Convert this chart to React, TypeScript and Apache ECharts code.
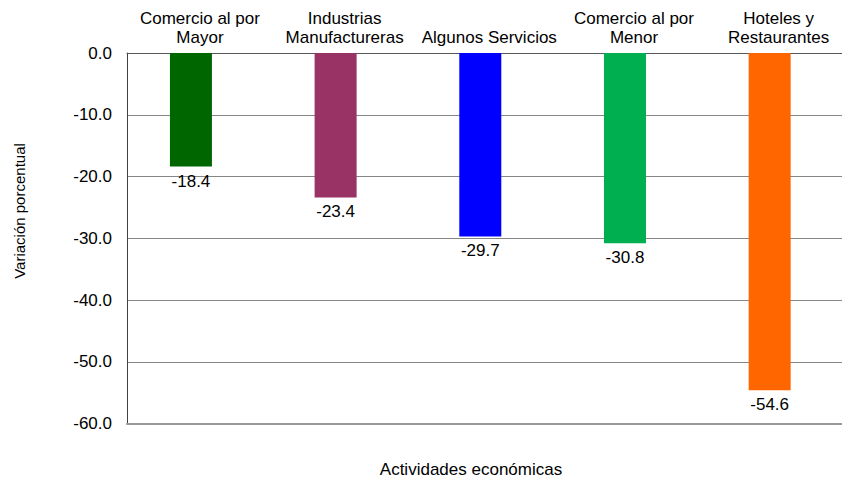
import React, { useEffect, useRef } from "react";
import * as echarts from "echarts";

const categories = [
  "Comercio al por\nMayor",
  "Industrias\nManufactureras",
  "Algunos Servicios",
  "Comercio al por\nMenor",
  "Hoteles y\nRestaurantes",
];
const values = [-18.4, -23.4, -29.7, -30.8, -54.6];
const barColors = ["#006600", "#993366", "#0000FF", "#00B050", "#FF6600"];
const yAxisTitle = "Variación porcentual";
const xAxisTitle = "Actividades económicas";

const FONT = "'Liberation Sans', Arial, sans-serif";

export default function App() {
  const ref = useRef<HTMLDivElement>(null);
  useEffect(() => {
    document.body.style.margin = "0";
    if (!ref.current) return;
    const chart = echarts.init(ref.current, undefined, { renderer: "svg" });
    chart.setOption({
      animation: false,
      backgroundColor: "#ffffff",
      textStyle: { fontFamily: FONT },
      grid: [
        { left: 118.6, width: 723.8, top: 53, bottom: 54.5 },
        { left: 127, right: 0, top: 53, bottom: 54.5 },
      ],
      xAxis: [
        {
          type: "category",
          gridIndex: 0,
          position: "top",
          data: categories,
          axisLine: { show: false },
          axisTick: { show: false },
          axisLabel: {
            color: "#000",
            fontSize: 17,
            fontFamily: FONT,
            lineHeight: 19,
            margin: 6,
            interval: 0,
            padding: [0, 0, 0, 18],
          },
        },
        {
          type: "value",
          gridIndex: 1,
          position: "top",
          min: 0,
          max: 1,
          axisLine: { show: true, lineStyle: { color: "#595959", width: 1 } },
          axisTick: { show: false },
          axisLabel: { show: false },
          splitLine: { show: false },
        },
        {
          type: "value",
          gridIndex: 1,
          position: "bottom",
          min: 0,
          max: 1,
          axisLine: { show: true, onZero: false, lineStyle: { color: "#999999", width: 2 } },
          axisTick: { show: false },
          axisLabel: { show: false },
          splitLine: { show: false },
        },
      ],
      yAxis: [
        {
          type: "value",
          gridIndex: 0,
          min: -60,
          max: 0,
          interval: 10,
          show: false,
          splitLine: { show: false },
        },
        {
          type: "value",
          gridIndex: 1,
          min: -60,
          max: 0,
          interval: 10,
          axisLine: { show: true, lineStyle: { color: "#404040", width: 1 } },
          axisTick: { show: false },
          axisLabel: {
            color: "#000",
            fontSize: 17,
            fontFamily: FONT,
            margin: 15,
            formatter: (v: number) => v.toFixed(1),
          },
          splitLine: { show: true, lineStyle: { color: "#868686", width: 1 } },
        },
      ],
      series: [
        {
          type: "bar",
          xAxisIndex: 0,
          yAxisIndex: 0,
          barWidth: 42,
          data: values.map((v, i) => ({
            value: v,
            itemStyle: { color: barColors[i] },
          })),
          label: {
            show: true,
            position: "bottom",
            distance: 6,
            color: "#000",
            fontSize: 17,
            fontFamily: FONT,
            formatter: (p: any) => Number(p.value).toFixed(1),
          },
          z: 3,
        },
      ],
      graphic: [
        {
          type: "text",
          x: 19,
          y: 211,
          rotation: Math.PI / 2,
          style: {
            text: yAxisTitle,
            fill: "#000",
            fontSize: 15,
            fontFamily: FONT,
            textAlign: "center",
            textVerticalAlign: "middle",
          },
        },
        {
          type: "text",
          x: 471,
          y: 469,
          style: {
            text: xAxisTitle,
            fill: "#000",
            fontSize: 17,
            fontFamily: FONT,
            textAlign: "center",
            textVerticalAlign: "middle",
          },
        },
      ],
    });
    return () => chart.dispose();
  }, []);
  return <div ref={ref} style={{ width: 842, height: 478 }} />;
}
